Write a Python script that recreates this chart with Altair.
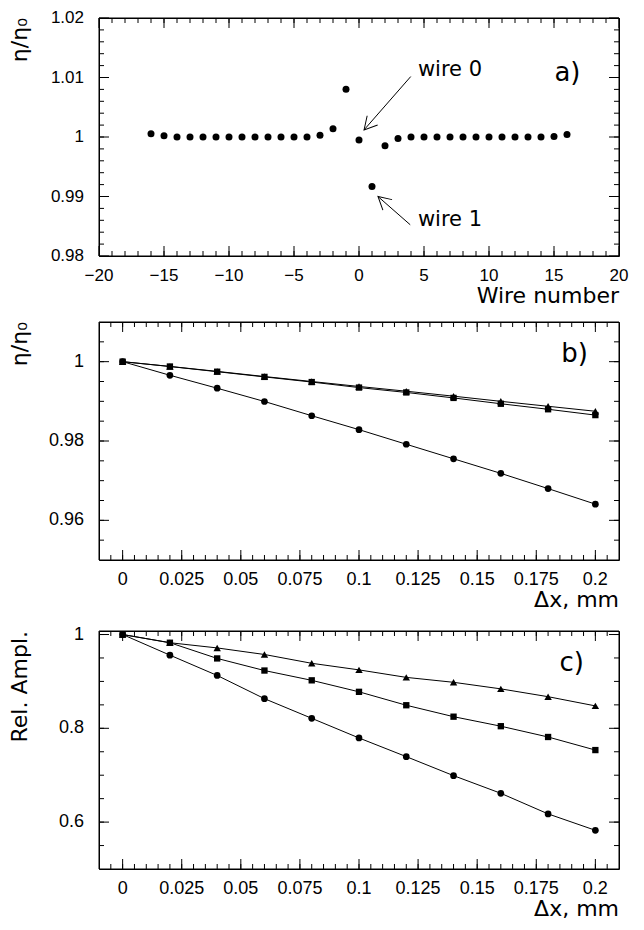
import altair as alt
import pandas as pd

# ---------------- data ----------------
# panel a) : eta/eta0 versus wire number
wire_number = list(range(-16, 17))
eta_ratio_a = [1.00055, 1.0002, 1.0, 1.0, 1.0, 1.0, 1.0, 1.0, 1.0, 1.0, 1.0, 1.0, 1.0,
               1.0003, 1.00137, 1.00803, 0.99951, 0.99169, 0.99852, 0.99973,
               1.0, 1.0, 1.0, 1.0, 1.0, 1.0, 1.0, 1.0, 1.0, 1.0, 1.0, 1.0001, 1.00044]

# panels b) and c) : versus displacement dx (mm)
dx_mm = [0.0, 0.02, 0.04, 0.06, 0.08, 0.10, 0.12, 0.14, 0.16, 0.18, 0.20]
eta_b_circle = [1.0, 0.99657, 0.99331, 0.98996, 0.98637, 0.98286, 0.97918, 0.97551, 0.97184, 0.9680, 0.96408]
eta_b_square = [1.0, 0.99878, 0.99747, 0.99616, 0.99486, 0.99347, 0.99224, 0.99086, 0.98939, 0.9880, 0.98653]
eta_b_triangle = [1.0, 0.9988, 0.99755, 0.99625, 0.9950, 0.99375, 0.99255, 0.9913, 0.9900, 0.98875, 0.9875]
ampl_c_circle = [1.0, 0.956, 0.9127, 0.8632, 0.8213, 0.7794, 0.7396, 0.6991, 0.6614, 0.6175, 0.5825]
ampl_c_square = [1.0, 0.9825, 0.949, 0.9232, 0.9023, 0.8778, 0.8492, 0.8248, 0.8045, 0.7815, 0.7536]
ampl_c_triangle = [1.0, 0.9825, 0.9714, 0.9574, 0.9386, 0.9246, 0.9086, 0.8981, 0.8841, 0.8674, 0.8478]
series_shapes = ["triangle-up", "square", "circle"]

# axis ticks / labels
a_x_major = [-20, -15, -10, -5, 0, 5, 10, 15, 20]
a_x_labels = ["−20", "−15", "−10", "−5", "0", "5", "10", "15", "20"]
a_x_minor = list(range(-19, 20))
a_y_major = [0.98, 0.99, 1.0, 1.01, 1.02]
a_y_labels = ["0.98", "0.99", "1", "1.01", "1.02"]
a_y_minor = [round(0.98 + 0.002 * i, 4) for i in range(1, 20)]
bc_x_major = [0, 0.025, 0.05, 0.075, 0.1, 0.125, 0.15, 0.175, 0.2]
bc_x_labels = ["0", "0.025", "0.05", "0.075", "0.1", "0.125", "0.15", "0.175", "0.2"]
bc_x_minor = [round(-0.005 + 0.005 * i, 4) for i in range(0, 43)]
b_y_major = [0.96, 0.98, 1.0]
b_y_labels = ["0.96", "0.98", "1"]
b_y_minor = [round(0.955 + 0.005 * i, 4) for i in range(0, 11)]
c_y_major = [0.6, 0.8, 1.0]
c_y_labels = ["0.6", "0.8", "1"]
c_y_minor = [0.55, 0.6, 0.65, 0.7, 0.75, 0.8, 0.85, 0.9, 0.95, 1.0]

# annotations (data coordinates)
arrow_x = [3.98, 3.94]
arrow_y = [1.01016, 0.98525]
arrow_x2 = [0.39, 1.46]
arrow_y2 = [1.0012, 0.9900]
arrow_angle = [221.2, 311.3]
note_text = ["wire 0", "wire 1"]
note_x = [4.53, 4.53]
note_y = [1.0112, 0.9861]

W, H = 520, 238
MAJ, MIN = 10, 5
TITLE_FONT = "DejaVu Sans"
LABEL_FONT = "Liberation Sans"


def make_encoders(xdom, ydom):
    xs = alt.Scale(domain=xdom, nice=False, zero=False)
    ys = alt.Scale(domain=ydom, nice=False, zero=False)

    def X(field):
        return alt.X(field, type="quantitative", scale=xs, axis=None)

    def Y(field):
        return alt.Y(field, type="quantitative", scale=ys, axis=None)
    return X, Y


def frame_layers(X, Y, xdom, ydom, x_major, x_minor, y_major, y_minor,
                 x_labels, y_labels, xtitle, ytitle, lsize):
    """Box frame, inward PAW-style ticks on all four sides, tick labels and titles."""
    (x0, x1), (y0, y1) = xdom, ydom
    kx = (x1 - x0) / W
    ky = (y1 - y0) / H
    xt, yt = [], []
    for vals, L in ((x_major, MAJ), (x_minor, MIN)):
        for v in vals:
            xt.append({"v": v, "a": y0, "b": y0 + L * ky})
            xt.append({"v": v, "a": y1, "b": y1 - L * ky})
    for vals, L in ((y_major, MAJ), (y_minor, MIN)):
        for v in vals:
            yt.append({"v": v, "a": x0, "b": x0 + L * kx})
            yt.append({"v": v, "a": x1, "b": x1 - L * kx})
    box = alt.Chart(pd.DataFrame({"x": [x0], "x2": [x1], "y": [y0], "y2": [y1]})).mark_rect(
        filled=False, stroke="black", strokeWidth=1).encode(
        x=X("x"), x2="x2:Q", y=Y("y"), y2="y2:Q")
    xticks = alt.Chart(pd.DataFrame(xt)).mark_rule(color="black", strokeWidth=1).encode(
        x=X("v"), y=Y("a"), y2="b:Q")
    yticks = alt.Chart(pd.DataFrame(yt)).mark_rule(color="black", strokeWidth=1).encode(
        y=Y("v"), x=X("a"), x2="b:Q")
    xlab = alt.Chart(pd.DataFrame({"v": x_major, "t": x_labels})).mark_text(
        font=LABEL_FONT, fontSize=lsize, align="center", baseline="middle",
        color="black").encode(x=X("v"), y=alt.value(H + 20), text="t:N")
    ylab = alt.Chart(pd.DataFrame({"v": y_major, "t": y_labels})).mark_text(
        font=LABEL_FONT, fontSize=lsize, align="right", baseline="middle",
        color="black").encode(y=Y("v"), x=alt.value(-15), text="t:N")
    xtit = alt.Chart(pd.DataFrame({"t": [xtitle]})).mark_text(
        font=TITLE_FONT, fontSize=22, align="right", baseline="alphabetic",
        color="black").encode(x=alt.value(W), y=alt.value(H + 47), text="t:N")
    ytit = alt.Chart(pd.DataFrame({"t": [ytitle]})).mark_text(
        font=TITLE_FONT, fontSize=22, align="right", baseline="bottom", angle=270,
        color="black").encode(x=alt.value(-67), y=alt.value(0), text="t:N")
    return [xlab, ylab, xtit, ytit, box, xticks, yticks]


def letter(tag, xy, X, Y):
    return alt.Chart(pd.DataFrame({"x": [xy[0]], "y": [xy[1]], "t": [tag]})).mark_text(
        font=TITLE_FONT, fontSize=26, align="left", baseline="middle", color="black").encode(
        x=X("x"), y=Y("y"), text="t:N")


# ---------------- panel a ----------------
xdom_a, ydom_a = [-20, 20], [0.98, 1.02]
Xa, Ya = make_encoders(xdom_a, ydom_a)
df_a = pd.DataFrame({"x": wire_number, "y": eta_ratio_a})
pts_a = alt.Chart(df_a).mark_circle(size=49, color="black", opacity=1).encode(
    x=Xa("x"), y=Ya("y"))
df_arr = pd.DataFrame({"x": arrow_x, "y": arrow_y, "x2": arrow_x2, "y2": arrow_y2,
                       "ang": arrow_angle})
arr_lines = alt.Chart(df_arr).mark_rule(color="black", strokeWidth=1).encode(
    x=Xa("x"), y=Ya("y"), x2="x2:Q", y2="y2:Q")
arr_heads = alt.Chart(df_arr).mark_point(shape="M -0.55 1 L 0 0 L 0.55 1", filled=False,
                                         size=640, color="black", strokeWidth=1,
                                         opacity=1).encode(
    x=Xa("x2"), y=Ya("y2"), angle=alt.Angle("ang:Q", scale=None))
df_notes = pd.DataFrame({"x": note_x, "y": note_y, "t": note_text})
notes = alt.Chart(df_notes).mark_text(font=TITLE_FONT, fontSize=21, align="left",
                                       baseline="middle", color="black").encode(
    x=Xa("x"), y=Ya("y"), text="t:N")

panel_a = alt.layer(
    *frame_layers(Xa, Ya, xdom_a, ydom_a, a_x_major, a_x_minor, a_y_major, a_y_minor,
                  a_x_labels, a_y_labels, "Wire number", "η/η₀", 17),
    arr_lines, arr_heads, notes, letter("a)", (15.03, 1.0107), Xa, Ya), pts_a
).properties(width=W, height=H)


# ---------------- panels b, c ----------------
def series_panel(vals, ydom, y_major, y_minor, y_labels, ytitle, tag, tag_xy):
    xdom = [-0.01, 0.21]
    X, Y = make_encoders(xdom, ydom)
    rows = []
    for shape, v in zip(series_shapes, vals):
        for xv, yv in zip(dx_mm, v):
            rows.append({"x": xv, "y": yv, "s": shape})
    df = pd.DataFrame(rows)
    lines = alt.Chart(df).mark_line(color="black", strokeWidth=1).encode(
        x=X("x"), y=Y("y"), detail="s:N", order="x:Q")
    pts = []
    for shape, sz in zip(series_shapes, [55, 40, 45]):
        pts.append(alt.Chart(df).transform_filter(alt.datum.s == shape).mark_point(
            shape=shape, filled=True, size=sz, color="black", opacity=1).encode(
            x=X("x"), y=Y("y")))
    return alt.layer(
        *frame_layers(X, Y, xdom, ydom, bc_x_major, bc_x_minor, y_major, y_minor,
                      bc_x_labels, y_labels, "Δx, mm", ytitle, 18),
        lines, *pts, letter(tag, tag_xy, X, Y)
    ).properties(width=W, height=H)


panel_b = series_panel([eta_b_triangle, eta_b_square, eta_b_circle], [0.95, 1.01],
                       b_y_major, b_y_minor, b_y_labels, "η/η₀", "b)", (0.1856, 1.002))
panel_c = series_panel([ampl_c_triangle, ampl_c_square, ampl_c_circle], [0.5, 1.0075],
                       c_y_major, c_y_minor, c_y_labels, "Rel. Ampl.", "c)", (0.1848, 0.9395))

chart = alt.vconcat(panel_a, panel_b, panel_c, spacing=13).properties(
    padding={"left": 0, "top": 0, "right": 0, "bottom": 0}
).configure_view(stroke="black", strokeWidth=1)

chart.save("out.html", embed_options={"renderer": "svg", "actions": False})
